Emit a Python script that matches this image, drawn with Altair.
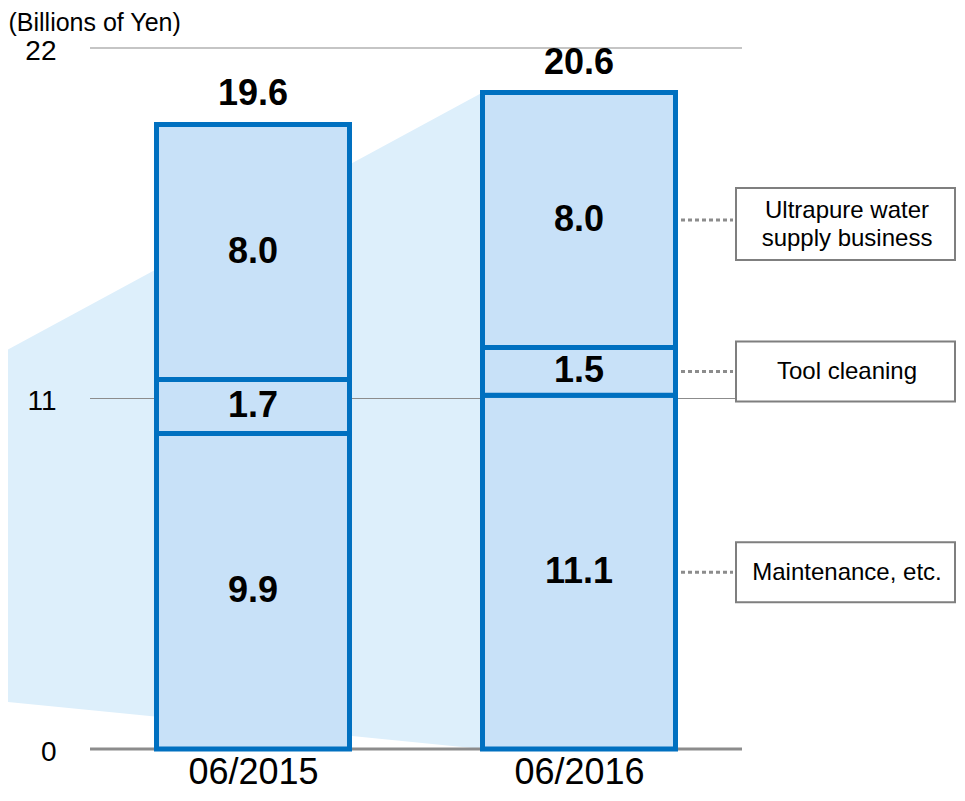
import altair as alt
import pandas as pd

# ---------------- data ----------------
periods = ["06/2015", "06/2016"]
segments = ["Maintenance, etc.", "Tool cleaning", "Ultrapure water supply business"]
values_2015 = [9.9, 1.7, 8.0]
values_2016 = [11.1, 1.5, 8.0]
totals = [19.6, 20.6]
legend_labels = ["Maintenance, etc.", "Tool cleaning", "Ultrapure water\nsupply business"]
y_ticks = [0, 11, 22]
wedge_top = [12.4, 20.6]      # read at left page edge and at 2016 bar
wedge_bottom = [1.5, 0.0]

# ---------------- layout ----------------
FONT = "Liberation Sans, Arial, sans-serif"
W, H = 652, 701
PAD = {"left": 82, "top": 40, "right": 215, "bottom": 44}
Y_MAX = 22
PX = H / Y_MAX               # pixels per data unit (y)
XU = W / 2.0                 # pixels per x unit
HALF = 0.296                 # half bar width in x units
LH = 28                      # legend text line height
BAR_FILL = "#C8E1F8"
BAR_STROKE = "#0070C0"
WEDGE = "#DDEFFB"
GRID = "#8C8C8C"

rows = []
for i, (p, vals) in enumerate(zip(periods, [values_2015, values_2016])):
    base = 0.0
    for s, v in zip(segments, vals):
        rows.append(dict(period=p, segment=s, x=i + 0.5 - HALF, x2=i + 0.5 + HALF,
                         xc=i + 0.5, y=base, y2=base + v, yc=base + v / 2,
                         label=f"{v:.1f}"))
        base += v
bars = pd.DataFrame(rows)

tot = pd.DataFrame(dict(period=periods, xc=[i + 0.5 for i in range(len(periods))],
                        total=totals, label=[f"{t:.1f}" for t in totals]))

wedge = pd.DataFrame(dict(x=[-90 / XU, 1.5 - HALF], top=wedge_top, bottom=wedge_bottom))

grid = pd.DataFrame(dict(y=y_ticks, x=[0.0] * 3, x2=[2.0] * 3,
                         w=[3 if t == 0 else 1.2 for t in y_ticks]))

last = bars[bars.period == periods[-1]].reset_index(drop=True)
leg_rows = []
for seg, lab in zip(segments, legend_labels):
    yc = float(last.loc[last.segment == seg, "yc"].iloc[0])
    nl = lab.count("\n") + 1
    hpx = 72 if nl > 1 else 60
    boxc = yc - (4 if nl > 1 else 0) / PX
    leg_rows.append(dict(label=lab, yc=yc, yb=boxc - hpx / 2 / PX, yt=boxc + hpx / 2 / PX,
                         ty=boxc + ((nl - 1) * LH / 2 - 1) / PX,
                         dx1=591 / XU, dx2=643 / XU, bx1=646 / XU, bx2=865 / XU,
                         tx=757 / XU))
leg = pd.DataFrame(leg_rows)

xs = alt.Scale(domain=[0, 2], nice=False, zero=False)
ys = alt.Scale(domain=[0, Y_MAX], nice=False, zero=False)

label_expr = " : ".join([f"datum.value < {i + 1} ? '{p}'" for i, p in enumerate(periods[:-1])]) + f" : '{periods[-1]}'"
xaxis = alt.Axis(values=[i + 0.5 for i in range(len(periods))], labelExpr=label_expr,
                 title=None, grid=False, domain=False, ticks=False,
                 labelFontSize=36, labelFont=FONT, labelColor="black",
                 labelPadding=6, labelBaseline="top")
yaxis = alt.Axis(values=y_ticks, title="(Billions of Yen)", grid=False, domain=False,
                 ticks=False, labelFontSize=28, labelFont=FONT, labelColor="black",
                 labelPadding=34, labelOffset=3, titleAngle=0, titleX=-82, titleY=-18,
                 titleAlign="left", titleBaseline="alphabetic", titleFontSize=25,
                 titleFontWeight="normal", titleFont=FONT, titleColor="black",
                 zindex=1)


def X(f):
    return alt.X(f, type="quantitative", scale=xs, axis=xaxis)


def Y(f):
    return alt.Y(f, type="quantitative", scale=ys, axis=yaxis)


wedge_l = alt.Chart(wedge).mark_area(color=WEDGE, opacity=1).encode(
    x=X("x"), y=Y("top"), y2="bottom")

grid_l = alt.Chart(grid).mark_rule(color=GRID).encode(
    x=X("x"), x2="x2", y=Y("y"), size=alt.Size("w:Q", scale=None, legend=None))

bar_l = alt.Chart(bars).mark_rect(fill=BAR_FILL, stroke=BAR_STROKE, strokeWidth=5).encode(
    x=X("x"), x2="x2", y=Y("y"), y2="y2")

seg_txt = alt.Chart(bars).mark_text(font=FONT, fontSize=36, fontWeight="bold",
                                    color="black", baseline="middle").encode(
    x=X("xc"), y=Y("yc"), text="label:N")

tot_txt = alt.Chart(tot).mark_text(font=FONT, fontSize=36, fontWeight="bold",
                                   color="black", baseline="alphabetic", dy=-19).encode(
    x=X("xc"), y=Y("total"), text="label:N")

dots = alt.Chart(leg).mark_rule(color=GRID, strokeWidth=3, strokeDash=[4, 3]).encode(
    x=X("dx1"), x2="dx2", y=Y("yc"))

boxes = alt.Chart(leg).mark_rect(fill="white", stroke="#7F7F7F", strokeWidth=2).encode(
    x=X("bx1"), x2="bx2", y=Y("yb"), y2="yt")

box_txt = alt.Chart(leg).mark_text(font=FONT, fontSize=24, color="black",
                                   baseline="middle", lineBreak="\n", lineHeight=LH).encode(
    x=X("tx"), y=Y("ty"), text="label:N")

chart = alt.layer(wedge_l, grid_l, bar_l, seg_txt, tot_txt, dots, boxes, box_txt).properties(
    width=W, height=H,
    autosize=alt.AutoSizeParams(type="none"),
    padding=PAD,
).configure(font=FONT).configure_view(stroke=None)

chart.save("out.html", embed_options={"renderer": "svg", "actions": False})
